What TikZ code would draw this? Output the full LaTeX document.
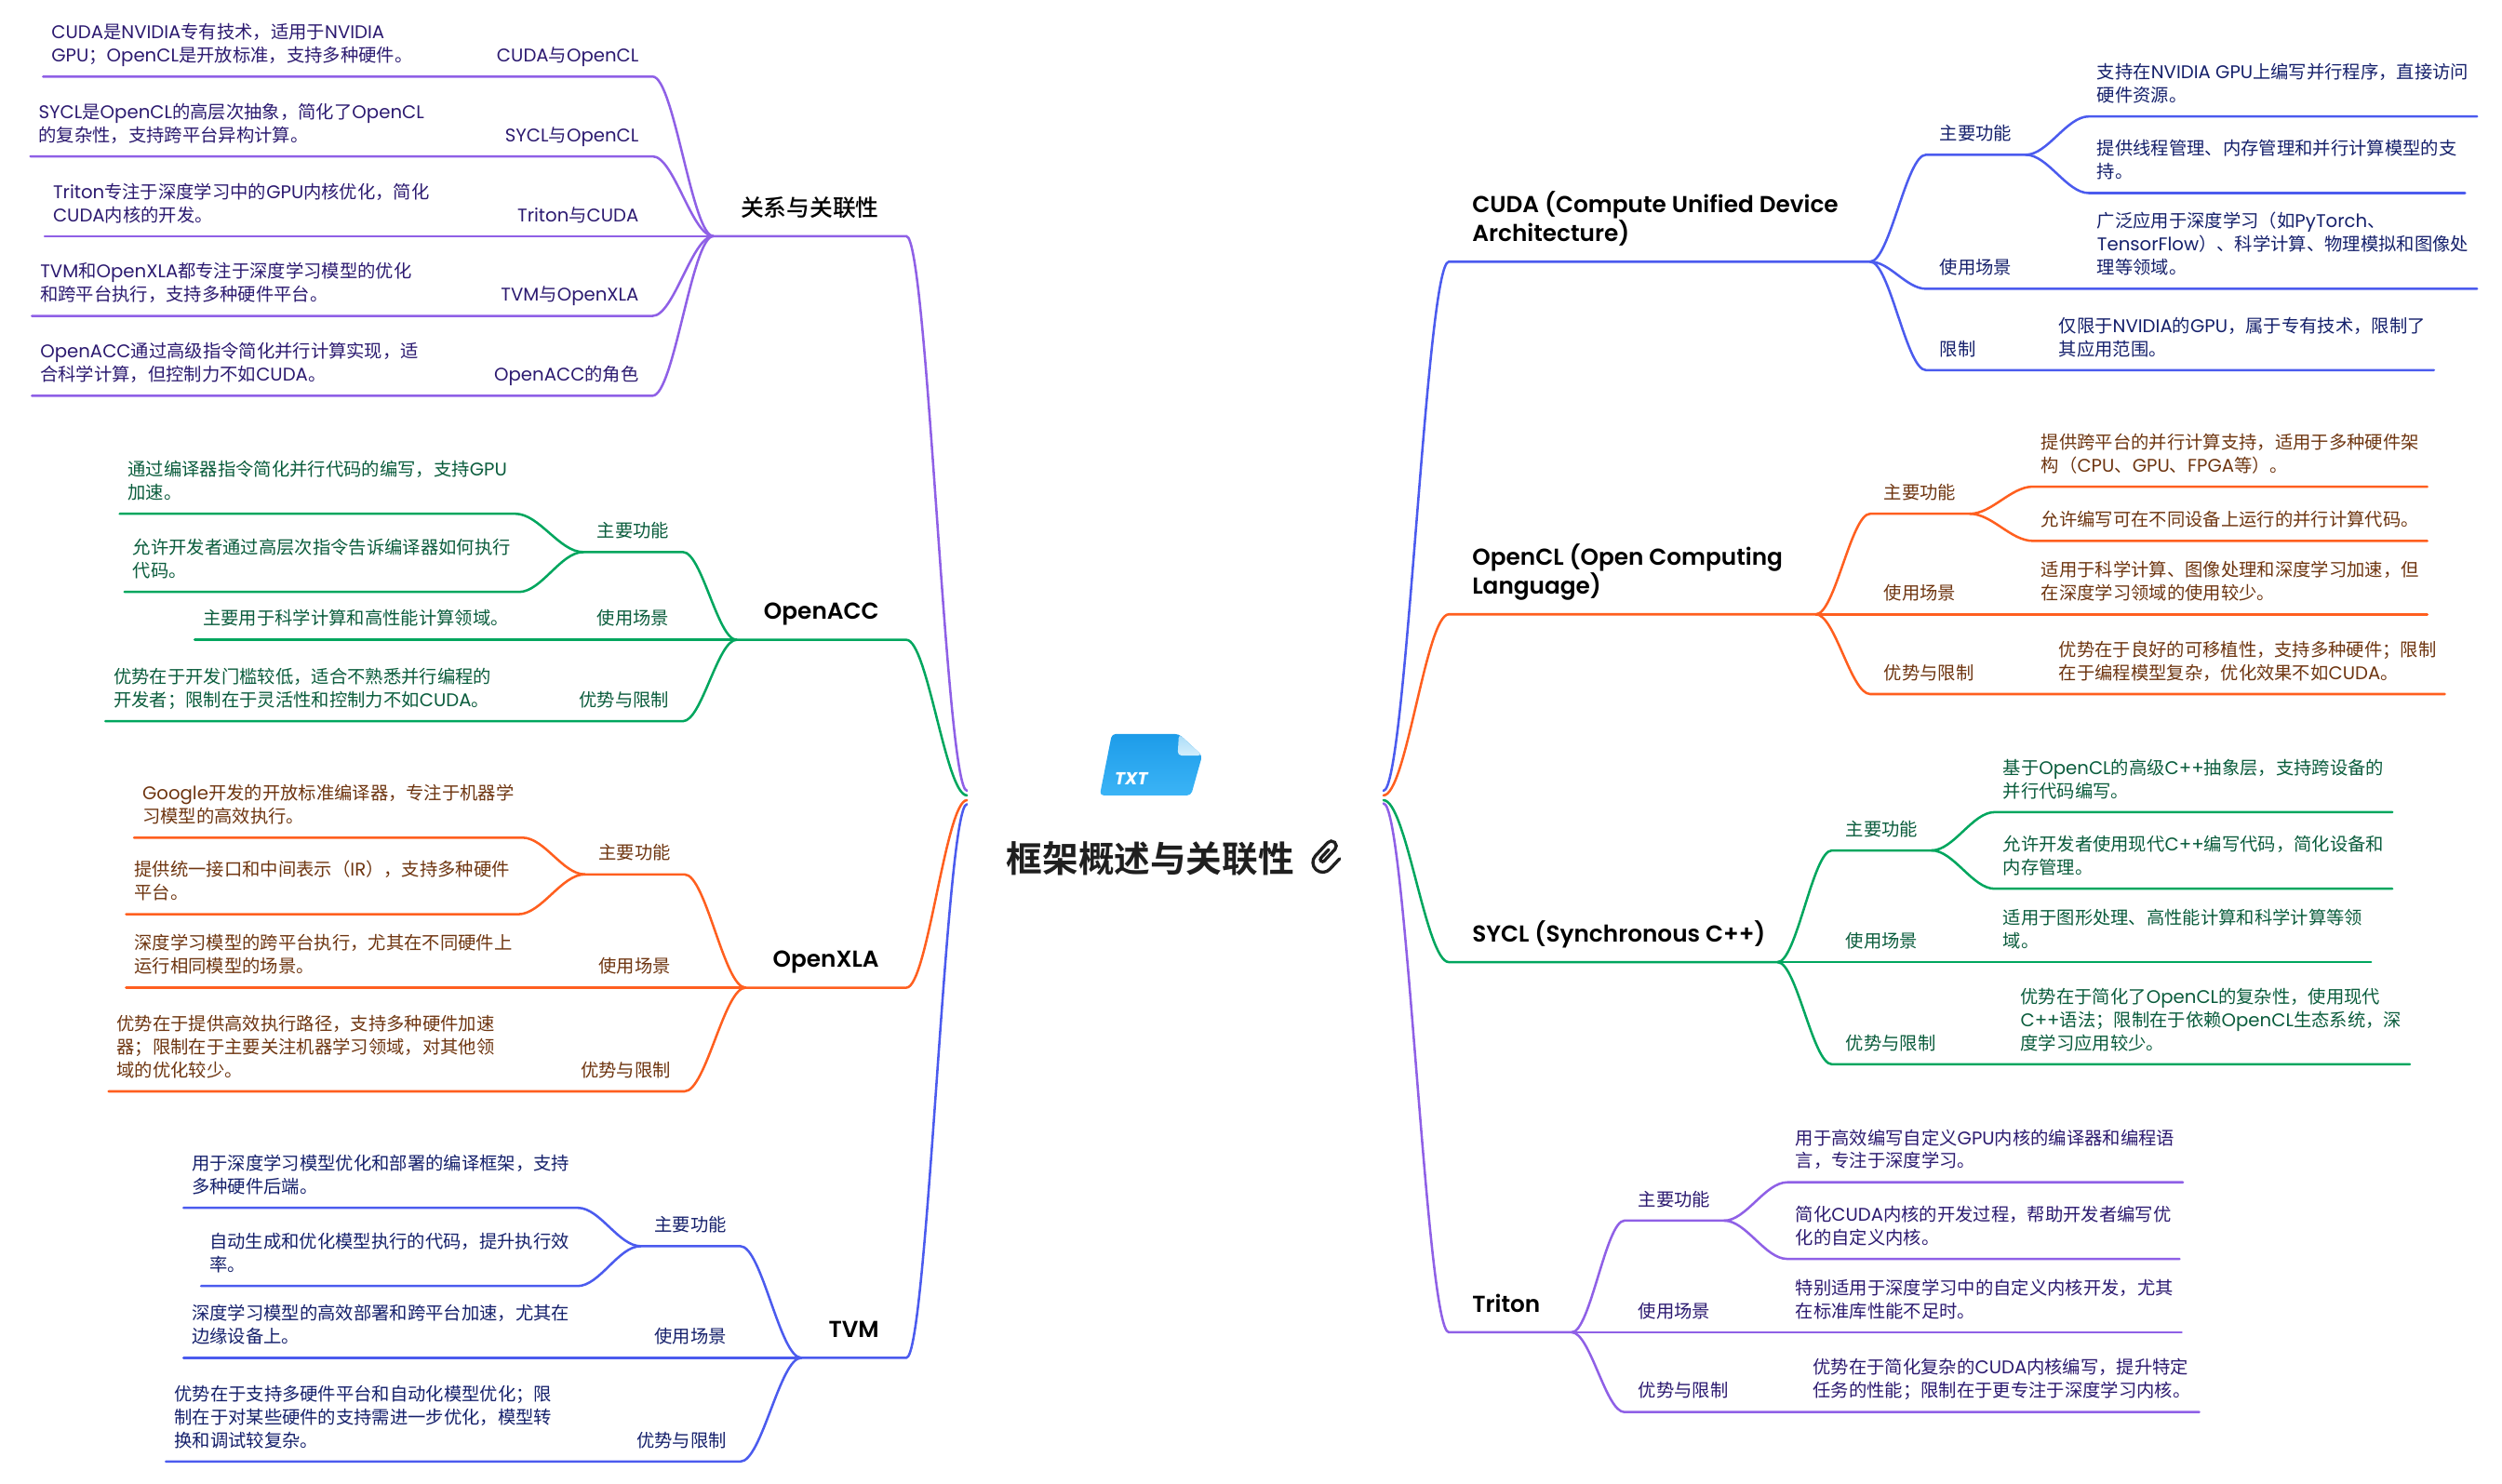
\documentclass[tikz,border=0pt]{standalone}
\usepackage{fontspec}
\usetikzlibrary{calc}
\setmainfont{Poppins}[Scale=1.02]
\newfontfamily\zhbody{Noto Sans CJK SC}
\newfontfamily\zhhead{Noto Sans CJK SC Medium}
\newfontfamily\zhroot{Noto Sans CJK SC Bold}
\newfontfamily\headlat{Poppins SemiBold}
\newfontfamily\bodylat{Poppins}[Scale=1.02]
\newcommand{\usezh}{\zhbody}
\newcommand{\uselat}{\bodylat}
\newcommand{\bodytext}{\fontsize{5.5}{7.1}\selectfont}
\newcommand{\headtext}{\fontsize{7.05}{8.75}\def\usezh{\zhhead}\def\uselat{\headlat}\headlat}
\newcommand{\roottext}{\fontsize{11}{13}\def\usezh{\zhroot}\zhroot}
% CJK characters switch font by themselves
\XeTeXinterchartokenstate=1
\newXeTeXintercharclass\zhclass
\newcount\zhcode
\zhcode="3000
\loop\ifnum\zhcode<"A000 \XeTeXcharclass\zhcode=\zhclass \advance\zhcode by 1 \repeat
\zhcode="FF00
\loop\ifnum\zhcode<"FFF0 \XeTeXcharclass\zhcode=\zhclass \advance\zhcode by 1 \repeat
\XeTeXinterchartoks 0 \zhclass={\usezh}
\XeTeXinterchartoks 4095 \zhclass={\usezh}
\XeTeXinterchartoks \zhclass 0={\uselat}
\XeTeXinterchartoks \zhclass 4095={\uselat}
\definecolor{lineblue}{HTML}{4B5BEE}
\definecolor{lineorange}{HTML}{FF5F1F}
\definecolor{linegreen}{HTML}{00A65E}
\definecolor{linepurple}{HTML}{8F60E6}
\definecolor{textblue}{HTML}{15206B}
\definecolor{textorange}{HTML}{6E3510}
\definecolor{textgreen}{HTML}{0A5C3C}
\definecolor{textpurple}{HTML}{2C1A70}
\definecolor{icontop}{HTML}{1D9CE9}
\definecolor{iconbottom}{HTML}{3BB4F6}
\definecolor{foldtop}{HTML}{A9DCF8}
\definecolor{foldbottom}{HTML}{D3EEFC}
\tikzset{
	leaf/.style={font=\bodytext, align=left, inner xsep=2.2pt, inner ysep=2pt, execute at end node=\strut},
	tag/.style={font=\bodytext, inner xsep=3.89pt, inner ysep=2pt, execute at end node=\strut},
	head/.style={font=\headtext, text=black, align=left, inner xsep=6.8pt, inner ysep=3.2pt, execute at end node=\strut},
	headl/.style={head, inner xsep=8pt},
	fork/.style={to path={let \p1=($(\tikztostart)!.35!(\tikztotarget)$), \p2=($(\tikztostart)!.65!(\tikztotarget)$), \p3=(\tikztostart), \p4=(\tikztotarget) in .. controls (\x1,\y3) and (\x2,\y4) .. (\tikztotarget)}},
	bluebr/.style={color=lineblue, every node/.append style={text=textblue}},
	orangebr/.style={color=lineorange, every node/.append style={text=textorange}},
	greenbr/.style={color=linegreen, every node/.append style={text=textgreen}},
	purplebr/.style={color=linepurple, every node/.append style={text=textpurple}}
}

\begin{document}
\begin{tikzpicture}[x=0.1715mm, y=-0.1715mm, line width=.72pt, line cap=round]
	\useasboundingbox (0, 0) rectangle (1568, 930);

	% centre
	\shade[rounded corners=1.2pt, top color=icontop, bottom color=iconbottom]
		(696.8, 460) -- (738.8, 460) -- (753.4, 473.5) -- (746.4, 498.5) -- (689.2, 498.5) -- cycle;
	\shade[rounded corners=1.2pt, top color=foldtop, bottom color=foldbottom] (738.8, 460) -- (753.4, 473.5) -- (738, 473.5) -- cycle;
	\node[font=\fontsize{5.2}{6}\bfseries\itshape, text=white, inner sep=0] (txt) at (709, 488) {TXT};
	\node[font=\roottext, text=black!88, anchor=west, inner sep=0] (root) at (630, 538) {框架概述与关联性};
	\begin{scope}[shift={(830.9, 537)}, rotate=47, line width=.95pt, color=black!88]
		\draw (5, 7.1) -- (-3.9, 7.1) arc[start angle=90, end angle=270, radius=6.15] -- (7.3, -5.2) arc[start angle=270, end angle=450, radius=3.1] -- (-2.6, 1) arc[start angle=90, end angle=270, radius=1.4] -- (4.6, -1.8);
	\end{scope}
	\coordinate (rootl1) at (606, 495.6);
	\coordinate (rootl2) at (606, 498.5);
	\coordinate (rootl3) at (606, 501.5);
	\coordinate (rootl4) at (606, 504);
	\coordinate (rootr1) at (867, 495.6);
	\coordinate (rootr2) at (867, 498.5);
	\coordinate (rootr3) at (867, 501.5);
	\coordinate (rootr4) at (867, 503.5);

	% left: relations
	\begin{scope}[purplebr]
		\node[headl, anchor=south east] (rel) at (568, 148) {关系与关联性};
		\draw (rootl1) to[fork] (rel.south east) -- (rel.south west);
		\node[tag, anchor=south east] (relcuda) at (409, 48) {CUDA与OpenCL};
		\node[leaf, anchor=south west] (relcudatxt) at (27, 48) {CUDA是NVIDIA专有技术，适用于NVIDIA\\GPU；OpenCL是开放标准，支持多种硬件。};
		\node[tag, anchor=south east] (relsycl) at (409, 98) {SYCL与OpenCL};
		\node[leaf, anchor=south west] (relsycltxt) at (19, 98) {SYCL是OpenCL的高层次抽象，简化了OpenCL\\的复杂性，支持跨平台异构计算。};
		\node[tag, anchor=south east] (reltriton) at (409, 148) {Triton与CUDA};
		\node[leaf, anchor=south west] (reltritontxt) at (28, 148) {Triton专注于深度学习中的GPU内核优化，简化\\CUDA内核的开发。};
		\node[tag, anchor=south east] (reltvm) at (409, 198) {TVM与OpenXLA};
		\node[leaf, anchor=south west] (reltvmtxt) at (20, 198) {TVM和OpenXLA都专注于深度学习模型的优化\\和跨平台执行，支持多种硬件平台。};
		\node[tag, anchor=south east] (relacc) at (409, 248) {OpenACC的角色};
		\node[leaf, anchor=south west] (relacctxt) at (20, 248) {OpenACC通过高级指令简化并行计算实现，适\\合科学计算，但控制力不如CUDA。};
		\foreach \kid in {relcuda, relsycl, reltvm, relacc}
			\draw (rel.south west) to[fork] (\kid.south east) -- (\kid txt.south west);
		\draw (rel.south west) -- (reltritontxt.south west);
	\end{scope}

	% left: OpenACC
	\begin{scope}[greenbr]
		\node[headl, anchor=south east] (acc) at (568, 401) {OpenACC};
		\draw (rootl2) to[fork] (acc.south east) -- (acc.south west);
		\node[tag, anchor=south east] (accmain) at (428, 346) {主要功能};
		\node[leaf, anchor=south west] (accmaina) at (75, 322) {通过编译器指令简化并行代码的编写，支持GPU\\加速。};
		\node[leaf, anchor=south west] (accmainb) at (78, 371) {允许开发者通过高层次指令告诉编译器如何执行\\代码。};
		\draw (acc.south west) to[fork] (accmain.south east) -- (accmain.south west);
		\foreach \kid in {accmaina, accmainb}
			\draw (accmain.south west) to[fork] (\kid.south east) -- (\kid.south west);
		\node[tag, anchor=south east] (accuse) at (428, 401) {使用场景};
		\node[leaf, anchor=south west] (accusetxt) at (122, 401) {主要用于科学计算和高性能计算领域。};
		\draw (acc.south west) -- (accusetxt.south west);
		\node[tag, anchor=south east] (accpro) at (428, 452) {优势与限制};
		\node[leaf, anchor=south west] (accprotxt) at (66, 452) {优势在于开发门槛较低，适合不熟悉并行编程的\\开发者；限制在于灵活性和控制力不如CUDA。};
		\draw (acc.south west) to[fork] (accpro.south east) -- (accprotxt.south west);
	\end{scope}

	% left: OpenXLA
	\begin{scope}[orangebr]
		\node[headl, anchor=south east] (xla) at (568, 619) {OpenXLA};
		\draw (rootl3) to[fork] (xla.south east) -- (xla.south west);
		\node[tag, anchor=south east] (xlamain) at (429, 548) {主要功能};
		\node[leaf, anchor=south west] (xlamaina) at (84, 525) {Google开发的开放标准编译器，专注于机器学\\习模型的高效执行。};
		\node[leaf, anchor=south west] (xlamainb) at (79, 573) {提供统一接口和中间表示（IR），支持多种硬件\\平台。};
		\draw (xla.south west) to[fork] (xlamain.south east) -- (xlamain.south west);
		\foreach \kid in {xlamaina, xlamainb}
			\draw (xlamain.south west) to[fork] (\kid.south east) -- (\kid.south west);
		\node[tag, anchor=south east] (xlause) at (429, 619) {使用场景};
		\node[leaf, anchor=south west] (xlausetxt) at (79, 619) {深度学习模型的跨平台执行，尤其在不同硬件上\\运行相同模型的场景。};
		\draw (xla.south west) -- (xlausetxt.south west);
		\node[tag, anchor=south east] (xlapro) at (429, 684) {优势与限制};
		\node[leaf, anchor=south west] (xlaprotxt) at (68, 684) {优势在于提供高效执行路径，支持多种硬件加速\\器；限制在于主要关注机器学习领域，对其他领\\域的优化较少。};
		\draw (xla.south west) to[fork] (xlapro.south east) -- (xlaprotxt.south west);
	\end{scope}

	% left: TVM
	\begin{scope}[bluebr]
		\node[headl, anchor=south east] (tvm) at (568, 851) {TVM};
		\draw (rootl4) to[fork] (tvm.south east) -- (tvm.south west);
		\node[tag, anchor=south east] (tvmmain) at (464, 781) {主要功能};
		\node[leaf, anchor=south west] (tvmmaina) at (115, 757) {用于深度学习模型优化和部署的编译框架，支持\\多种硬件后端。};
		\node[leaf, anchor=south west] (tvmmainb) at (126, 806) {自动生成和优化模型执行的代码，提升执行效\\率。};
		\draw (tvm.south west) to[fork] (tvmmain.south east) -- (tvmmain.south west);
		\foreach \kid in {tvmmaina, tvmmainb}
			\draw (tvmmain.south west) to[fork] (\kid.south east) -- (\kid.south west);
		\node[tag, anchor=south east] (tvmuse) at (464, 851) {使用场景};
		\node[leaf, anchor=south west] (tvmusetxt) at (115, 851) {深度学习模型的高效部署和跨平台加速，尤其在\\边缘设备上。};
		\draw (tvm.south west) -- (tvmusetxt.south west);
		\node[tag, anchor=south east] (tvmpro) at (464, 916) {优势与限制};
		\node[leaf, anchor=south west] (tvmprotxt) at (104, 916) {优势在于支持多硬件平台和自动化模型优化；限\\制在于对某些硬件的支持需进一步优化，模型转\\换和调试较复杂。};
		\draw (tvm.south west) to[fork] (tvmpro.south east) -- (tvmprotxt.south west);
	\end{scope}

	% right: CUDA
	\begin{scope}[bluebr]
		\node[head, anchor=south west] (cuda) at (908, 164) {CUDA (Compute Unified Device\\Architecture)};
		\coordinate (cudaend) at (1172, 164);
		\draw (rootr1) to[fork] (cuda.south west) -- (cudaend);
		\node[tag, anchor=south west] (cudamain) at (1207, 97) {主要功能};
		\node[leaf, anchor=south west] (cudamaina) at (1309, 73) {支持在NVIDIA GPU上编写并行程序，直接访问\\硬件资源。};
		\node[leaf, anchor=south west] (cudamainb) at (1309, 121) {提供线程管理、内存管理和并行计算模型的支\\持。};
		\draw (cudaend) to[fork] (cudamain.south west) -- (cudamain.south east);
		\foreach \kid in {cudamaina, cudamainb}
			\draw (cudamain.south east) to[fork] (\kid.south west) -- (\kid.south east);
		\node[tag, anchor=south west] (cudause) at (1207, 181) {使用场景};
		\node[leaf, anchor=south west] (cudausetxt) at (1309, 181) {广泛应用于深度学习（如PyTorch、\\TensorFlow）、科学计算、物理模拟和图像处\\理等领域。};
		\draw (cudaend) to[fork] (cudause.south west) -- (cudausetxt.south east);
		\node[tag, anchor=south west] (cudalim) at (1207, 232) {限制};
		\node[leaf, anchor=south west] (cudalimtxt) at (1285, 232) {仅限于NVIDIA的GPU，属于专有技术，限制了\\其应用范围。};
		\draw (cudaend) to[fork] (cudalim.south west) -- (cudalimtxt.south east);
	\end{scope}

	% right: OpenCL
	\begin{scope}[orangebr]
		\node[head, anchor=south west] (ocl) at (908, 385) {OpenCL (Open Computing\\Language)};
		\coordinate (oclend) at (1138, 385);
		\draw (rootr2) to[fork] (ocl.south west) -- (oclend);
		\node[tag, anchor=south west] (oclmain) at (1172, 322) {主要功能};
		\node[leaf, anchor=south west] (oclmaina) at (1274, 305) {提供跨平台的并行计算支持，适用于多种硬件架\\构（CPU、GPU、FPGA等）。};
		\node[leaf, anchor=south west] (oclmainb) at (1274, 339) {允许编写可在不同设备上运行的并行计算代码。};
		\draw (oclend) to[fork] (oclmain.south west) -- (oclmain.south east);
		\foreach \kid in {oclmaina, oclmainb}
			\draw (oclmain.south east) to[fork] (\kid.south west) -- (\kid.south east);
		\node[tag, anchor=south west] (ocluse) at (1172, 385) {使用场景};
		\node[leaf, anchor=south west] (oclusetxt) at (1274, 385) {适用于科学计算、图像处理和深度学习加速，但\\在深度学习领域的使用较少。};
		\draw (oclend) -- (oclusetxt.south east);
		\node[tag, anchor=south west] (oclpro) at (1172, 435) {优势与限制};
		\node[leaf, anchor=south west] (oclprotxt) at (1285, 435) {优势在于良好的可移植性，支持多种硬件；限制\\在于编程模型复杂，优化效果不如CUDA。};
		\draw (oclend) to[fork] (oclpro.south west) -- (oclprotxt.south east);
	\end{scope}

	% right: SYCL
	\begin{scope}[greenbr]
		\node[head, anchor=south west] (sycl) at (908, 603) {SYCL (Synchronous C++)};
		\coordinate (syclend) at (1114, 603);
		\draw (rootr3) to[fork] (sycl.south west) -- (syclend);
		\node[tag, anchor=south west] (syclmain) at (1148, 533) {主要功能};
		\node[leaf, anchor=south west] (syclmaina) at (1250, 509) {基于OpenCL的高级C++抽象层，支持跨设备的\\并行代码编写。};
		\node[leaf, anchor=south west] (syclmainb) at (1250, 557) {允许开发者使用现代C++编写代码，简化设备和\\内存管理。};
		\draw (syclend) to[fork] (syclmain.south west) -- (syclmain.south east);
		\foreach \kid in {syclmaina, syclmainb}
			\draw (syclmain.south east) to[fork] (\kid.south west) -- (\kid.south east);
		\node[tag, anchor=south west] (syclusetag) at (1148, 603) {使用场景};
		\node[leaf, anchor=south west] (syclusetxt) at (1250, 603) {适用于图形处理、高性能计算和科学计算等领\\域。};
		\draw (syclend) -- (syclusetxt.south east);
		\node[tag, anchor=south west] (syclpro) at (1148, 667) {优势与限制};
		\node[leaf, anchor=south west] (syclprotxt) at (1261, 667) {优势在于简化了OpenCL的复杂性，使用现代\\C++语法；限制在于依赖OpenCL生态系统，深\\度学习应用较少。};
		\draw (syclend) to[fork] (syclpro.south west) -- (syclprotxt.south east);
	\end{scope}

	% right: Triton
	\begin{scope}[purplebr]
		\node[head, anchor=south west] (triton) at (908, 835) {Triton};
		\coordinate (tritonend) at (985, 835);
		\draw (rootr4) to[fork] (triton.south west) -- (tritonend);
		\node[tag, anchor=south west] (tritonmain) at (1018, 765) {主要功能};
		\node[leaf, anchor=south west] (tritonmaina) at (1120, 741) {用于高效编写自定义GPU内核的编译器和编程语\\言，专注于深度学习。};
		\node[leaf, anchor=south west] (tritonmainb) at (1120, 789) {简化CUDA内核的开发过程，帮助开发者编写优\\化的自定义内核。};
		\draw (tritonend) to[fork] (tritonmain.south west) -- (tritonmain.south east);
		\foreach \kid in {tritonmaina, tritonmainb}
			\draw (tritonmain.south east) to[fork] (\kid.south west) -- (\kid.south east);
		\node[tag, anchor=south west] (tritonuse) at (1018, 835) {使用场景};
		\node[leaf, anchor=south west] (tritonusetxt) at (1120, 835) {特别适用于深度学习中的自定义内核开发，尤其\\在标准库性能不足时。};
		\draw (tritonend) -- (tritonusetxt.south east);
		\node[tag, anchor=south west] (tritonpro) at (1018, 885) {优势与限制};
		\node[leaf, anchor=south west] (tritonprotxt) at (1131, 885) {优势在于简化复杂的CUDA内核编写，提升特定\\任务的性能；限制在于更专注于深度学习内核。};
		\draw (tritonend) to[fork] (tritonpro.south west) -- (tritonprotxt.south east);
	\end{scope}
\end{tikzpicture}
\end{document}
